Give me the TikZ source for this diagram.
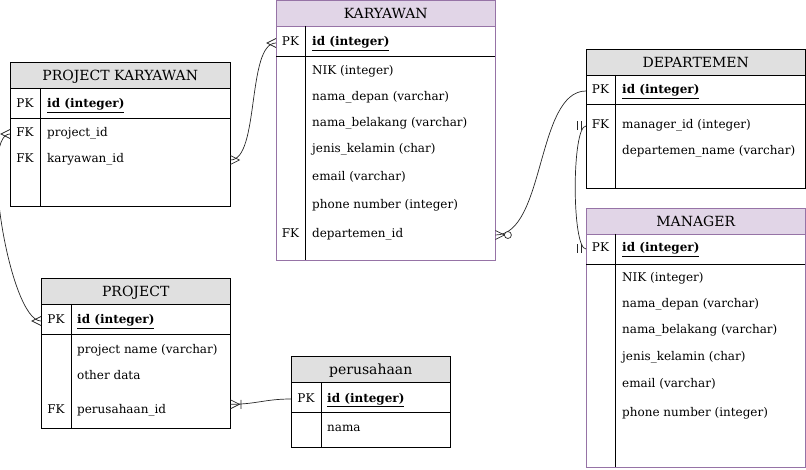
\documentclass[tikz,border=0pt]{standalone}
\usepackage{fontspec}
\setmainfont{DejaVu Serif}

\definecolor{hdrgray}{HTML}{E0E0E0}
\definecolor{mgfill}{HTML}{E1D5E7}
\definecolor{mgline}{HTML}{9673A6}

\pgfdeclarearrow{
  name = ERmany,
  setup code = {
    \pgfarrowssettipend{0pt}
    \pgfarrowssetlineend{0pt}
    \pgfarrowssetbackend{-9pt}
    \pgfarrowsupperhullpoint{0pt}{4.5pt}
    \pgfarrowsupperhullpoint{-9pt}{0pt}
  },
  drawing code = {
    \pgfpathmoveto{\pgfqpoint{0pt}{4.5pt}}
    \pgfpathlineto{\pgfqpoint{-9pt}{0pt}}
    \pgfpathlineto{\pgfqpoint{0pt}{-4.5pt}}
    \pgfusepathqstroke
  }
}
\pgfdeclarearrow{
  name = ERzmany,
  setup code = {
    \pgfarrowssettipend{0pt}
    \pgfarrowssetlineend{0pt}
    \pgfarrowssetbackend{-16pt}
    \pgfarrowsupperhullpoint{0pt}{4.5pt}
    \pgfarrowsupperhullpoint{-16pt}{3.5pt}
  },
  drawing code = {
    \pgfpathmoveto{\pgfqpoint{0pt}{4.5pt}}
    \pgfpathlineto{\pgfqpoint{-9pt}{0pt}}
    \pgfpathlineto{\pgfqpoint{0pt}{-4.5pt}}
    \pgfusepathqstroke
    \pgfsetfillcolor{white}
    \pgfpathcircle{\pgfqpoint{-12.5pt}{0pt}}{3.5pt}
    \pgfusepathqfillstroke
  }
}
\pgfdeclarearrow{
  name = ERomany,
  setup code = {
    \pgfarrowssettipend{0pt}
    \pgfarrowssetlineend{0pt}
    \pgfarrowssetbackend{-11pt}
    \pgfarrowsupperhullpoint{0pt}{4.5pt}
    \pgfarrowsupperhullpoint{-11pt}{4.5pt}
  },
  drawing code = {
    \pgfpathmoveto{\pgfqpoint{0pt}{4.5pt}}
    \pgfpathlineto{\pgfqpoint{-9pt}{0pt}}
    \pgfpathlineto{\pgfqpoint{0pt}{-4.5pt}}
    \pgfpathmoveto{\pgfqpoint{-10.5pt}{4.5pt}}
    \pgfpathlineto{\pgfqpoint{-10.5pt}{-4.5pt}}
    \pgfusepathqstroke
  }
}
\pgfdeclarearrow{
  name = ERone,
  setup code = {
    \pgfarrowssettipend{0pt}
    \pgfarrowssetlineend{0pt}
    \pgfarrowssetbackend{-9pt}
    \pgfarrowsupperhullpoint{-5pt}{4.5pt}
    \pgfarrowsupperhullpoint{-9pt}{4.5pt}
  },
  drawing code = {
    \pgfpathmoveto{\pgfqpoint{-5pt}{4.5pt}}
    \pgfpathlineto{\pgfqpoint{-5pt}{-4.5pt}}
    \pgfpathmoveto{\pgfqpoint{-8.5pt}{4.5pt}}
    \pgfpathlineto{\pgfqpoint{-8.5pt}{-4.5pt}}
    \pgfusepathqstroke
  }
}

\tikzset{
  hdr/.style={draw, fill=hdrgray, anchor=north west, minimum height=26pt, inner sep=0pt,
    text height=11.5pt, text depth=0pt, font=\fontsize{14}{16}\selectfont},
  hdrm/.style={hdr, draw=mgline, fill=mgfill},
  key/.style={inner sep=0pt, text height=8.5pt, text depth=2.5pt, yshift=-2pt,
    font=\fontsize{12}{14}\selectfont},
  fld/.style={key, anchor=west},
  pkfld/.style={fld, font=\fontsize{12}{14}\selectfont\bfseries},
  rel/.style={line width=0.7pt, draw=black!85},
}

\begin{document}
\begin{tikzpicture}[x=1pt,y=-1pt]
\useasboundingbox (0,0) rectangle (806,470);

\node[hdr, minimum width=220pt] (pkaryawan) at (10,62) {PROJECT KARYAWAN};
\draw (10,88) rectangle (230,206) (10,118) -- (230,118) (40,88) -- (40,206);
\node[key] (pkarypk) at (25,103) {PK};
\node[pkfld] (pkaryid) at (47,103) {\underline{id (integer)}};
\node[key] (pkaryfk1) at (25,132) {FK};
\node[fld] (pkaryproj) at (47,132) {project\_id};
\node[key] (pkaryfk2) at (25,158) {FK};
\node[fld] (pkarykary) at (47,158) {karyawan\_id};

\node[hdrm, minimum width=219pt] (karyawan) at (276,0) {KARYAWAN};
\draw[mgline] (276,26) rectangle (495,260);
\draw (276,56) -- (495,56) (305,26) -- (305,260);
\node[key] (karypk) at (290.5,41) {PK};
\node[pkfld] (karyid) at (312,41) {\underline{id (integer)}};
\foreach \y/\t [count=\i] in {70/NIK (integer), 96/nama\_depan (varchar),
    122/nama\_belakang (varchar), 148/jenis\_kelamin (char),
    176/email (varchar), 204/phone number (integer)}
  \node[fld] (karyf\i) at (312,\y) {\t};
\node[key] (karyfk) at (290.5,233) {FK};
\node[fld] (karydep) at (312,233) {departemen\_id};

\node[hdr, minimum width=219pt] (departemen) at (586,49) {DEPARTEMEN};
\draw (586,75) rectangle (805,188) (586,104) -- (805,104) (615,75) -- (615,188);
\node[key] (deppk) at (600.5,89) {PK};
\node[pkfld] (depid) at (622,89) {\underline{id (integer)}};
\node[key] (depfk) at (600.5,124) {FK};
\node[fld] (depmgr) at (622,124) {manager\_id (integer)};
\node[fld] (depname) at (622,150) {departemen\_name (varchar)};

\node[hdrm, minimum width=219pt] (manager) at (586,208) {MANAGER};
\draw[mgline] (586,234) rectangle (805,467);
\draw (586,264) -- (805,264) (615,234) -- (615,467);
\node[key] (mgrpk) at (600.5,247) {PK};
\node[pkfld] (mgrid) at (622,247) {\underline{id (integer)}};
\foreach \y/\t [count=\i] in {277/NIK (integer), 303/nama\_depan (varchar),
    329/nama\_belakang (varchar), 355/jenis\_kelamin (char),
    383/email (varchar), 411/phone number (integer)}
  \node[fld] (mgrf\i) at (622,\y) {\t};

\node[hdr, minimum width=189pt] (project) at (41,278) {PROJECT};
\draw (41,304) rectangle (230,428) (41,334) -- (230,334) (71,304) -- (71,428);
\node[key] (projpk) at (56,319) {PK};
\node[pkfld] (projid) at (77,319) {\underline{id (integer)}};
\node[fld] (projname) at (77,348) {project name (varchar)};
\node[fld] (projother) at (77,374) {other data};
\node[key] (projfk) at (56,408) {FK};
\node[fld] (projperu) at (77,408) {perusahaan\_id};

\node[hdr, minimum width=159pt] (perusahaan) at (291,356) {perusahaan};
\draw (291,382) rectangle (450,447) (291,412) -- (450,412) (321,382) -- (321,447);
\node[key] (perupk) at (306,397) {PK};
\node[pkfld] (peruid) at (327,397) {\underline{id (integer)}};
\node[fld] (perunama) at (327,426) {nama};

\draw[rel, {ERmany}-{ERmany}] (pkaryawan.east |- pkarykary) to[out=0, in=180, looseness=0.6] (karyawan.west |- karyid);
\draw[rel, {ERmany}-{ERmany}] (pkaryawan.west |- pkaryproj) to[out=180, in=180, looseness=0.42] (project.west |- projid);
\draw[rel, {ERzmany}-] (karyawan.east |- karydep) to[out=0, in=180, looseness=0.75] (departemen.west |- depid);
\draw[rel, {ERone}-{ERone}] (departemen.west |- depmgr) to[out=180, in=180, looseness=0.3] (manager.west |- mgrid);
\draw[rel, {ERomany}-] (project.east |- projperu.north) to[out=0, in=180, looseness=1.1] (perusahaan.west |- peruid);
\end{tikzpicture}
\end{document}
